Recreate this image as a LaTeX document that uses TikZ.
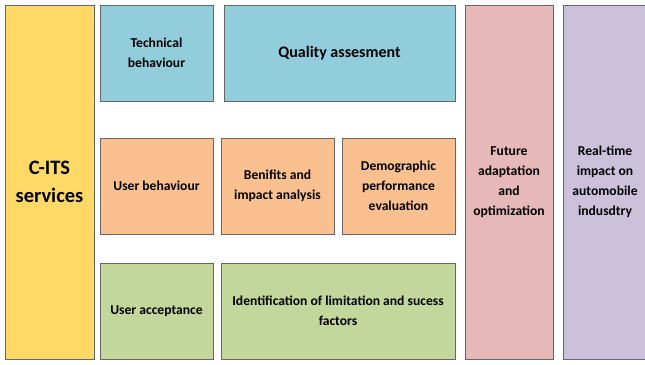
\documentclass[tikz,border=0pt]{standalone}
\usepackage{fontspec}
\setmainfont{Carlito}
\begin{document}
\begin{tikzpicture}[x=1pt,y=1pt,
  box/.style={draw=black!60, line width=0.8pt, inner sep=0pt, outer sep=0pt,
    align=center, font=\bfseries\fontsize{13.6}{20}\selectfont},
  big/.style={font=\bfseries\fontsize{20.5}{28}\selectfont},
  mid/.style={font=\bfseries\fontsize{16}{20}\selectfont}]
\definecolor{cyellow}{HTML}{FFD966}
\definecolor{cblue}{HTML}{92CDDC}
\definecolor{corange}{HTML}{FAC090}
\definecolor{cgreen}{HTML}{C3D69B}
\definecolor{cpink}{HTML}{E6B9B8}
\definecolor{cpurple}{HTML}{CCC1DA}
\useasboundingbox (0,0) rectangle (645,364);
% left column
\node[box, big, fill=cyellow, minimum width=89, minimum height=354] (cits) at (49.5,182) {C-ITS\\services};
% top row
\node[box, fill=cblue, minimum width=113, minimum height=96] (tech) at (156.5,311) {Technical\\behaviour};
\node[box, mid, fill=cblue, minimum width=231, minimum height=96] (qual) at (339.5,311) {Quality assesment};
% middle row
\node[box, fill=corange, minimum width=113, minimum height=96] (user) at (156.5,178) {User behaviour};
\node[box, fill=corange, minimum width=113, minimum height=96] (ben) at (277.5,178) {Benifits and\\impact analysis};
\node[box, fill=corange, minimum width=113, minimum height=96] (demo) at (398.5,178) {Demographic\\performance\\evaluation};
% bottom row
\node[box, fill=cgreen, minimum width=113, minimum height=96] (acc) at (156.5,53) {User acceptance};
\node[box, fill=cgreen, minimum width=234, minimum height=96] (ident) at (338,53) {Identification of limitation and sucess\\factors};
% right columns
\node[box, fill=cpink, minimum width=88, minimum height=354] (fut) at (509,182) {Future\\adaptation\\and\\optimization};
\node[box, fill=cpurple, minimum width=84, minimum height=354] (real) at (605,182) {Real-time\\impact on\\automobile\\indusdtry};
\end{tikzpicture}
\end{document}
